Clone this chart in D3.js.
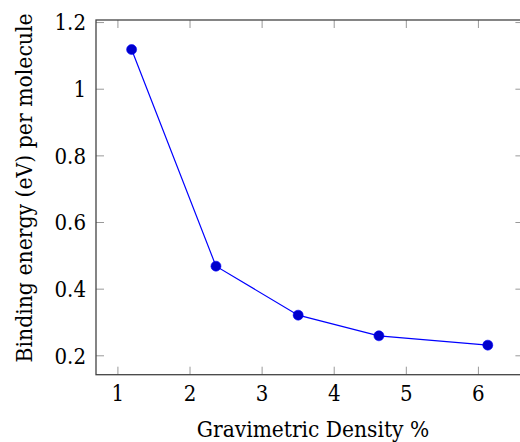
<!DOCTYPE html>
<html lang="en">
<head>
    <meta charset="UTF-8">
    <title>Binding energy</title>
    <script src="https://cdnjs.cloudflare.com/ajax/libs/d3/7.8.5/d3.min.js"></script>
    <style>
        body { margin: 0; background: #fff; }
    </style>
</head>
<body>
    <main></main>
    <script>
        var density = [1.19, 2.36, 3.50, 4.62, 6.13];
        var energy = [1.119, 0.469, 0.322, 0.260, 0.232];
        var xTicks = [1, 2, 3, 4, 5, 6];
        var yTicks = [0.2, 0.4, 0.6, 0.8, 1, 1.2];

        var plotLeft = 96, plotTop = 20, plotBottom = 374.7;
        var width = 520, height = 442;
        var serif = "'DejaVu Serif Condensed', 'DejaVu Serif', serif";

        var svg = d3.select('main')
            .append('svg')
            .attr('width', width)
            .attr('height', height)
            .style('font-family', serif)
            .style('font-stretch', 'condensed');

        // pgfplots-like enlargement of 10% of the data range
        var xMin = d3.min(density), xMax = d3.max(density);
        var yMin = d3.min(energy), yMax = d3.max(energy);
        var xPad = 0.1 * (xMax - xMin), yPad = 0.1 * (yMax - yMin);

        var xScale = d3.scaleLinear()
            .domain([xMin - xPad, xMax + xPad])
            .range([plotLeft, plotLeft + 72.1 * (xMax - xMin + 2 * xPad)]);

        var yScale = d3.scaleLinear()
            .domain([yMin - yPad, yMax + yPad])
            .range([plotBottom, plotTop]);

        var plotRight = xScale.range()[1];
        var tick = 8;

        // ticks on all four sides, pointing inward
        var ticks = svg.append('g').attr('stroke', '#999').attr('stroke-width', 1);
        xTicks.forEach(function (t) {
            var x = xScale(t);
            ticks.append('line').attr('x1', x).attr('x2', x).attr('y1', plotBottom).attr('y2', plotBottom - tick);
            ticks.append('line').attr('x1', x).attr('x2', x).attr('y1', plotTop).attr('y2', plotTop + tick);
        });
        yTicks.forEach(function (t) {
            var y = yScale(t);
            ticks.append('line').attr('x1', plotLeft).attr('x2', plotLeft + tick).attr('y1', y).attr('y2', y);
            ticks.append('line').attr('x1', plotRight).attr('x2', plotRight - tick).attr('y1', y).attr('y2', y);
        });

        svg.append('rect')
            .attr('x', plotLeft)
            .attr('y', plotTop)
            .attr('width', plotRight - plotLeft)
            .attr('height', plotBottom - plotTop)
            .attr('fill', 'none')
            .attr('stroke', '#444')
            .attr('stroke-width', 1.3);

        // tick labels
        svg.append('g').selectAll('text')
            .data(xTicks)
            .enter()
            .append('text')
            .attr('x', d => xScale(d))
            .attr('y', 401)
            .attr('text-anchor', 'middle')
            .style('font-size', '22px')
            .text(d => d);

        svg.append('g').selectAll('text')
            .data(yTicks)
            .enter()
            .append('text')
            .attr('x', 86)
            .attr('y', d => yScale(d))
            .attr('dy', '0.36em')
            .attr('text-anchor', 'end')
            .style('font-size', '22px')
            .text(d => d);

        // axis titles
        svg.append('text')
            .attr('x', 313)
            .attr('y', 437)
            .attr('text-anchor', 'middle')
            .style('font-size', '22.5px')
            .text('Gravimetric Density %');

        svg.append('text')
            .attr('transform', 'translate(32,188) rotate(-90)')
            .attr('text-anchor', 'middle')
            .style('font-size', '22.7px')
            .text('Binding energy (eV) per molecule');

        // data line and markers
        var points = density.map((d, i) => [d, energy[i]]);

        svg.append('path')
            .datum(points)
            .attr('fill', 'none')
            .attr('stroke', '#0000ff')
            .attr('stroke-width', 1.2)
            .attr('d', d3.line().x(d => xScale(d[0])).y(d => yScale(d[1])));

        svg.append('g').selectAll('circle')
            .data(points)
            .enter()
            .append('circle')
            .attr('cx', d => xScale(d[0]))
            .attr('cy', d => yScale(d[1]))
            .attr('r', 5)
            .attr('fill', '#0000cc')
            .attr('stroke', '#0000ff')
            .attr('stroke-width', 0.6);
    </script>
</body>
</html>
